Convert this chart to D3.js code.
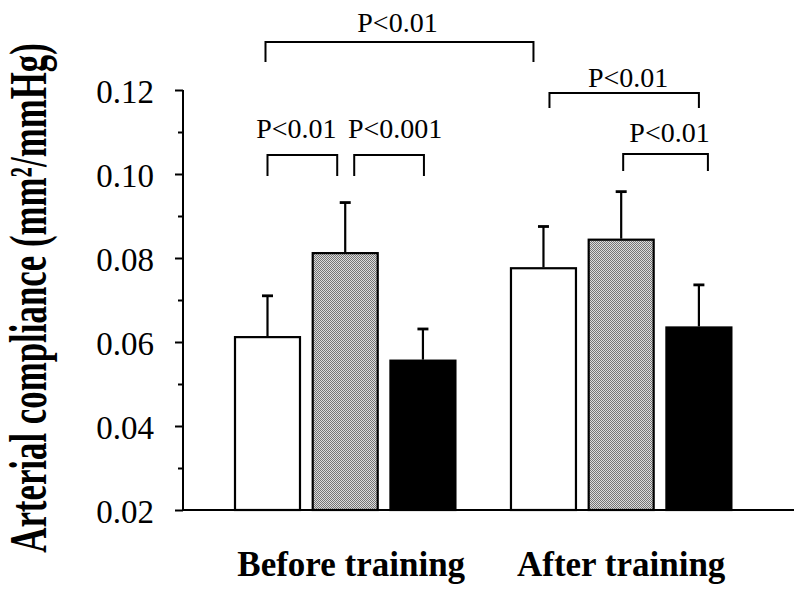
<!DOCTYPE html>
<html>
<head>
<meta charset="utf-8">
<script src="https://cdn.jsdelivr.net/npm/d3@7"></script>
<style>
  html, body { margin: 0; padding: 0; background: #fff; }
  svg { display: block; }
  text { font-family: "Liberation Serif", "Times New Roman", serif; fill: #000; }
</style>
</head>
<body>
<svg id="chart" width="800" height="593"></svg>
<script>
// ---------- data ----------
const groups = ["Before training", "After training"];
const conditions = ["white", "hatched", "black"];
const meanBefore = [0.0614, 0.0814, 0.0558];
const meanAfter  = [0.0778, 0.0846, 0.0637];
const seBefore   = [0.0096, 0.0118, 0.0073];
const seAfter    = [0.0097, 0.0112, 0.0099];
const yTicks      = [0.02, 0.04, 0.06, 0.08, 0.10, 0.12];
const yTickLabels = ["0.02", "0.04", "0.06", "0.08", "0.10", "0.12"];
const yMinorTicks = [0.03, 0.05, 0.07, 0.09, 0.11];
const yLabel = "Arterial compliance (mm\u00B2/mmHg)";
// comparisons: [groupIndex, conditionIndex] pairs
const compFrom   = [[0,0], [0,1], [0,0], [1,0], [1,1]];
const compTo     = [[0,1], [0,2], [1,0], [1,2], [1,2]];
const compLabels = ["P<0.01", "P<0.001", "P<0.01", "P<0.01", "P<0.01"];

// ---------- layout (pixels) ----------
const bracketLayout = [
  {dx1: 0,  dx2: -8,  top: 155, bottom: 176, ldx: -6, base: 138},
  {dx1: 9,  dx2: 1,   top: 155, bottom: 176, ldx: 6,  base: 138},
  {dx1: -2, dx2: -10, top: 42,  bottom: 62,  ldx: -2, base: 32},
  {dx1: 6,  dx2: 0,   top: 93,  bottom: 108, ldx: 4,  base: 87},
  {dx1: 2,  dx2: 9,   top: 154, bottom: 171, ldx: 4,  base: 142}
];

const svg = d3.select("#chart");

// pattern for hatched bar
const defs = svg.append("defs");
const pat = defs.append("pattern").attr("id", "checker")
  .attr("width", 2).attr("height", 2).attr("patternUnits", "userSpaceOnUse");
pat.append("rect").attr("width", 2).attr("height", 2).attr("fill", "#dcdcdc");
pat.append("rect").attr("x", 0).attr("y", 0).attr("width", 1).attr("height", 1).attr("fill", "#757575");
pat.append("rect").attr("x", 1).attr("y", 1).attr("width", 1).attr("height", 1).attr("fill", "#757575");

const fills = {white: "#fff", hatched: "url(#checker)", black: "#000"};

// ---------- scales ----------
const y = d3.scaleLinear().domain([0.02, 0.12]).range([510, 90]);
const x0 = d3.scaleBand().domain(groups).range([234, 732.4]).paddingInner(0.194).paddingOuter(0);
const x1 = d3.scaleBand().domain(conditions).range([0, x0.bandwidth()]).paddingInner(0.138).paddingOuter(0);

const axisX = 183;

// ---------- y axis ----------
const yAxis = d3.axisLeft(y).tickValues(yTicks).tickSize(8).tickPadding(21)
  .tickFormat((d, i) => yTickLabels[i]);
const gy = svg.append("g").attr("transform", `translate(${axisX},0)`).call(yAxis);
gy.attr("font-family", null).attr("font-size", null);
gy.select(".domain").attr("stroke", "#000").attr("stroke-width", 2)
  .attr("d", `M0,${y(0.12)}V${y(0.02)}`);
gy.selectAll(".tick line").attr("stroke", "#000").attr("stroke-width", 2);
gy.selectAll(".tick text").attr("font-size", 33).attr("dy", "0.38em");

const yMinor = d3.axisLeft(y).tickValues(yMinorTicks).tickSize(5).tickFormat("");
const gm = svg.append("g").attr("transform", `translate(${axisX},0)`).call(yMinor);
gm.select(".domain").remove();
gm.selectAll(".tick line").attr("stroke", "#000").attr("stroke-width", 2);

// baseline
svg.append("line").attr("x1", axisX).attr("x2", 794)
  .attr("y1", y(0.02)).attr("y2", y(0.02))
  .attr("stroke", "#000").attr("stroke-width", 2);

// ---------- bars ----------
const means = [meanBefore, meanAfter];
const ses = [seBefore, seAfter];
const rows = [];
groups.forEach((g, gi) => conditions.forEach((c, ci) => {
  rows.push({g, c, gi, ci, v: means[gi][ci], se: ses[gi][ci]});
}));
const cx = (gi, ci) => x0(groups[gi]) + x1(conditions[ci]) + x1.bandwidth() / 2;

// error bars (drawn first, bar outline drawn on top)
const eb = svg.append("g");
rows.forEach(d => {
  const xc = cx(d.gi, d.ci);
  eb.append("line").attr("x1", xc).attr("x2", xc)
    .attr("y1", y(d.v)).attr("y2", y(d.v + d.se))
    .attr("stroke", "#000").attr("stroke-width", 2.2);
  eb.append("line").attr("x1", xc - 5.5).attr("x2", xc + 5.5)
    .attr("y1", y(d.v + d.se)).attr("y2", y(d.v + d.se))
    .attr("stroke", "#000").attr("stroke-width", 2.8);
});

svg.append("g").selectAll("rect").data(rows).join("rect")
  .attr("x", d => x0(d.g) + x1(d.c) + 1)
  .attr("width", x1.bandwidth() - 2)
  .attr("y", d => y(d.v) + 1)
  .attr("height", d => y(0.02) - y(d.v) - 1)
  .attr("fill", d => fills[d.c])
  .attr("stroke", "#000").attr("stroke-width", 2.2);

// ---------- significance brackets ----------
const br = svg.append("g");
compLabels.forEach((lab, i) => {
  const L = bracketLayout[i];
  const xa = cx(compFrom[i][0], compFrom[i][1]) + L.dx1;
  const xb = cx(compTo[i][0], compTo[i][1]) + L.dx2;
  br.append("path")
    .attr("d", `M${xa},${L.bottom}V${L.top}H${xb}V${L.bottom}`)
    .attr("fill", "none").attr("stroke", "#000").attr("stroke-width", 2);
  br.append("text").attr("x", (xa + xb) / 2 + L.ldx).attr("y", L.base)
    .attr("text-anchor", "middle").attr("font-size", 28).text(lab);
});

// ---------- category labels ----------
svg.append("g").selectAll("text").data(groups).join("text")
  .attr("x", (d, i) => x0(d) + x0.bandwidth() / 2 + (i === 0 ? 6 : 0))
  .attr("y", 576)
  .attr("text-anchor", "middle")
  .attr("font-size", 35).attr("font-weight", "bold")
  .text(d => d);

// ---------- y label ----------
svg.append("text")
  .attr("transform", "translate(46,298) rotate(-90) scale(0.67,1)")
  .attr("text-anchor", "middle")
  .attr("font-size", 52).attr("font-weight", "bold")
  .text(yLabel);
</script>
</body>
</html>
